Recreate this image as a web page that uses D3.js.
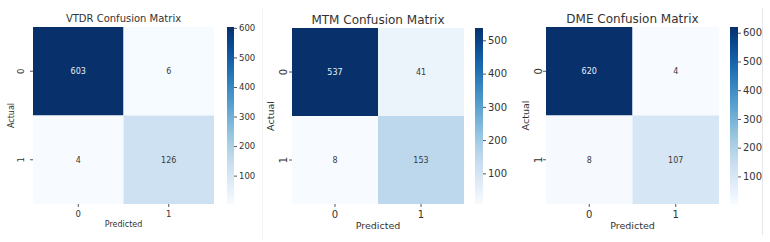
<!DOCTYPE html>
<html>
<head>
<meta charset="utf-8">
<script src="https://cdn.jsdelivr.net/npm/d3@7"></script>
<style>
  body { margin: 0; background: #fff; }
  svg { display: block; }
  text { font-family: "DejaVu Sans", sans-serif; fill: #333; }
</style>
</head>
<body>
<div id="chart"></div>
<script>
// chart data
const titles = ["VTDR Confusion Matrix", "MTM Confusion Matrix", "DME Confusion Matrix"];
const classLabels = ["0", "1"];
const vtdrMatrix = [[603, 6], [4, 126]];
const mtmMatrix = [[537, 41], [8, 153]];
const dmeMatrix = [[620, 4], [8, 107]];
const vtdrTicks = [100, 200, 300, 400, 500, 600];
const mtmTicks = [100, 200, 300, 400, 500];
const dmeTicks = [100, 200, 300, 400, 500, 600];

const panels = [
    { matrix: vtdrMatrix, ticks: vtdrTicks, x0: 33, x1: 214, y0: 27, y1: 204, cbx: 227, cbw: 7,
      fTitle: 10, fTick: 8.5, fLabel: 8, fAnnot: 8, titleY: 22, yTickX: 21, actualX: 11, xTickY: 217, predY: 227 },
    { matrix: mtmMatrix, ticks: mtmTicks, x0: 292, x1: 464, y0: 28, y1: 204, cbx: 475, cbw: 8,
      fTitle: 12, fTick: 10, fLabel: 9.5, fAnnot: 8, titleY: 24, yTickX: 283, actualX: 271, xTickY: 218, predY: 229 },
    { matrix: dmeMatrix, ticks: dmeTicks, x0: 546, x1: 719, y0: 27, y1: 204, cbx: 730, cbw: 8,
      fTitle: 12, fTick: 10, fLabel: 9.5, fAnnot: 8, titleY: 23, yTickX: 538, actualX: 526, xTickY: 218, predY: 229 }
];

const svg = d3.select("#chart")
    .append("svg")
    .attr("width", 770)
    .attr("height", 242);

const defs = svg.append("defs");

// faint borders of the pasted images
svg.append("line").attr("x1", 262.5).attr("x2", 262.5).attr("y1", 8).attr("y2", 240)
    .attr("stroke", "#f4f4f4");
svg.append("line").attr("x1", 762.5).attr("x2", 762.5).attr("y1", 8).attr("y2", 235)
    .attr("stroke", "#e6e6e6");

panels.forEach((p, i) => {
    const values = p.matrix.flat();
    const vmin = d3.min(values), vmax = d3.max(values);
    const color = d3.scaleSequential(d3.interpolateBlues).domain([vmin, vmax]);

    const xScale = d3.scaleBand().domain(classLabels).range([p.x0, p.x1]);
    const yScale = d3.scaleBand().domain(classLabels).range([p.y0, p.y1]);

    const g = svg.append("g");

    // cells
    const cells = [];
    p.matrix.forEach((row, r) => row.forEach((v, c) => cells.push({ r: classLabels[r], c: classLabels[c], v })));

    g.selectAll("rect.cell")
        .data(cells)
        .join("rect")
        .attr("class", "cell")
        .attr("x", d => xScale(d.c))
        .attr("y", d => yScale(d.r))
        .attr("width", xScale.bandwidth())
        .attr("height", yScale.bandwidth())
        .attr("fill", d => color(d.v));

    g.selectAll("text.annot")
        .data(cells)
        .join("text")
        .attr("class", "annot")
        .attr("x", d => xScale(d.c) + xScale.bandwidth() / 2)
        .attr("y", d => yScale(d.r) + yScale.bandwidth() / 2)
        .attr("dy", "0.35em")
        .attr("text-anchor", "middle")
        .style("font-size", p.fAnnot + "px")
        .style("fill", d => (d.v - vmin) / (vmax - vmin) > 0.6 ? "#e8eef5" : "#3a3a3a")
        .text(d => d.v);

    // x axis
    const xAxis = g.append("g")
        .attr("transform", "translate(0," + p.y1 + ")")
        .call(d3.axisBottom(xScale).tickSize(3));
    xAxis.select(".domain").remove();
    xAxis.selectAll(".tick line").attr("stroke", "#555");
    xAxis.selectAll(".tick text")
        .attr("y", p.xTickY - p.y1)
        .attr("dy", 0)
        .style("font-size", p.fTick + "px")
        .style("font-family", "DejaVu Sans")
        .style("fill", "#333");

    // y axis, labels rotated
    const yAxis = g.append("g")
        .attr("transform", "translate(" + p.x0 + ",0)")
        .call(d3.axisLeft(yScale).tickSize(3));
    yAxis.select(".domain").remove();
    yAxis.selectAll(".tick line").attr("stroke", "#555");
    yAxis.selectAll(".tick text")
        .attr("x", 0)
        .attr("dy", "0.35em")
        .attr("text-anchor", "middle")
        .attr("transform", "translate(" + (p.yTickX - p.x0) + ",0) rotate(-90)")
        .style("font-size", p.fTick + "px")
        .style("font-family", "DejaVu Sans")
        .style("fill", "#333");

    // title and axis labels
    g.append("text")
        .attr("x", (p.x0 + p.x1) / 2)
        .attr("y", p.titleY)
        .attr("text-anchor", "middle")
        .style("font-size", p.fTitle + "px")
        .text(titles[i]);

    g.append("text")
        .attr("x", (p.x0 + p.x1) / 2)
        .attr("y", p.predY)
        .attr("text-anchor", "middle")
        .style("font-size", p.fLabel + "px")
        .text("Predicted");

    g.append("text")
        .attr("transform", "translate(" + p.actualX + "," + ((p.y0 + p.y1) / 2) + ") rotate(-90)")
        .attr("dy", "0.35em")
        .attr("text-anchor", "middle")
        .style("font-size", p.fLabel + "px")
        .text("Actual");

    // colorbar
    const gradId = "grad" + i;
    const grad = defs.append("linearGradient")
        .attr("id", gradId)
        .attr("x1", 0).attr("x2", 0).attr("y1", 1).attr("y2", 0);
    d3.range(0, 1.0001, 0.05).forEach(t => {
        grad.append("stop")
            .attr("offset", t)
            .attr("stop-color", color(vmin + t * (vmax - vmin)));
    });

    g.append("rect")
        .attr("x", p.cbx)
        .attr("y", p.y0)
        .attr("width", p.cbw)
        .attr("height", p.y1 - p.y0)
        .attr("fill", "url(#" + gradId + ")");

    const cScale = d3.scaleLinear().domain([vmin, vmax]).range([p.y1, p.y0]);
    const cAxis = g.append("g")
        .attr("transform", "translate(" + (p.cbx + p.cbw) + ",0)")
        .call(d3.axisRight(cScale).tickValues(p.ticks).tickSize(3).tickPadding(2));
    cAxis.select(".domain").remove();
    cAxis.selectAll(".tick line").attr("stroke", "#555");
    cAxis.selectAll(".tick text")
        .style("font-size", p.fTick + "px")
        .style("font-family", "DejaVu Sans")
        .style("fill", "#333");
});
</script>
</body>
</html>
